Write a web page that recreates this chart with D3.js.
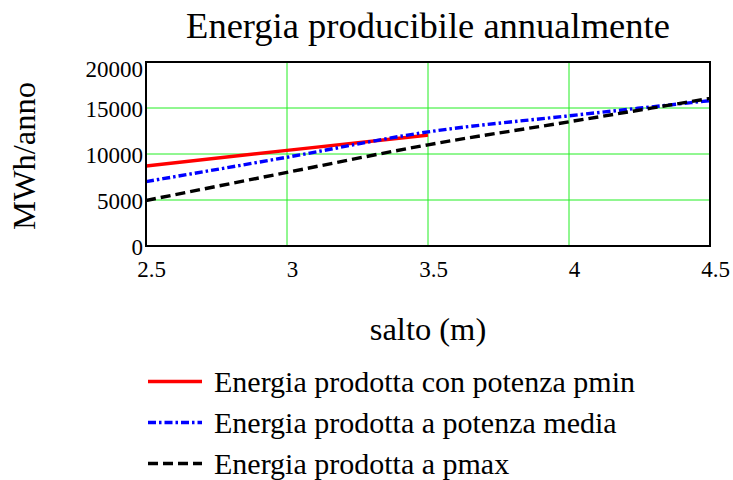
<!DOCTYPE html>
<html><head><meta charset="utf-8">
<script src="https://cdn.jsdelivr.net/npm/d3@7"></script>
<style>body{margin:0;background:#fff}svg{display:block}text{font-family:"Liberation Serif","Times New Roman",serif !important;fill:#000}</style>
</head><body><svg id="c" width="733" height="480"></svg>
<script>
const xTicks = [2.5, 3, 3.5, 4, 4.5];
const yTicks = [0, 5000, 10000, 15000, 20000];
const xPmin = [2.5, 3, 3.5];
const energyPmin = [8700, 10400, 12050];
const xMedia = [2.5, 3, 3.5, 4, 4.5];
const energyMedia = [7000, 9650, 12400, 14150, 15800];
const xPmax = [2.5, 3, 3.5, 4, 4.5];
const energyPmax = [4950, 8000, 11000, 13500, 16050];
const seriesNames = ["Energia prodotta con potenza pmin", "Energia prodotta a potenza media", "Energia prodotta a pmax"];

const FONT = '"Liberation Serif","Times New Roman",serif';
const svg = d3.select("#c");
const L = 146, R = 710, T = 62, B = 246;
const x = d3.scaleLinear().domain([2.5, 4.5]).range([L, R]);
const y = d3.scaleLinear().domain([0, 20000]).range([B, T]);

// grid
svg.append("g").selectAll("line").data(xTicks.slice(1, -1)).join("line")
  .attr("x1", d => x(d)).attr("x2", d => x(d)).attr("y1", T).attr("y2", B)
  .attr("stroke", "#22ee22").attr("stroke-width", 1);
svg.append("g").selectAll("line").data(yTicks.slice(1, -1)).join("line")
  .attr("x1", L).attr("x2", R).attr("y1", d => y(d)).attr("y2", d => y(d))
  .attr("stroke", "#22ee22").attr("stroke-width", 1);

// axes labels via d3 axes
const xAxis = svg.append("g").attr("transform", `translate(0,${B})`)
  .call(d3.axisBottom(x).tickValues(xTicks).tickSize(0).tickPadding(0).tickFormat(d3.format("")));
xAxis.attr("font-family", FONT).attr("font-size", 23);
xAxis.select(".domain").remove();
xAxis.selectAll("text").attr("font-family", FONT).attr("font-size", 23).attr("dy", null).attr("x", 5).attr("y", 31);

const yAxis = svg.append("g").attr("transform", `translate(${L},0)`)
  .call(d3.axisLeft(y).tickValues(yTicks).tickSize(0).tickPadding(3).tickFormat(d3.format("d")));
yAxis.attr("font-family", FONT).attr("font-size", 23);
yAxis.select(".domain").remove();
yAxis.selectAll("text").attr("font-family", FONT).attr("font-size", 23).attr("dy", null)
  .attr("y", d => Math.max(y(d), T + 6) - y(d) + 8);

// lines
const mk = (xs, vs) => xs.map((d, i) => [d, vs[i]]);
const line = d3.line().x(d => x(d[0])).y(d => y(d[1])).curve(d3.curveMonotoneX);
const styles = [
  {data: mk(xPmin, energyPmin), color: "#ff0000", dash: null},
  {data: mk(xMedia, energyMedia), color: "#0000ff", dash: "8,3,2.5,3"},
  {data: mk(xPmax, energyPmax), color: "#000000", dash: "10,5"}
];
svg.append("clipPath").attr("id", "clipP").append("rect").attr("x", L).attr("y", T - 5).attr("width", R - L + 4).attr("height", B - T + 5);
styles.forEach(s => {
  svg.append("path").attr("d", line(s.data)).attr("fill", "none")
    .attr("stroke", s.color).attr("stroke-width", 3.4)
    .attr("stroke-dasharray", s.dash).attr("clip-path", "url(#clipP)");
});

// frame
svg.append("rect").attr("x", L).attr("y", T).attr("width", R - L).attr("height", B - T)
  .attr("fill", "none").attr("stroke", "#000").attr("stroke-width", 2);

// titles
svg.append("text").attr("x", 428).attr("y", 37.5).attr("text-anchor", "middle").attr("font-size", 36.5).text("Energia producibile annualmente");
svg.append("text").attr("x", 428).attr("y", 340).attr("text-anchor", "middle").attr("font-size", 32.5).text("salto (m)");
svg.append("text").attr("transform", "translate(35,156) rotate(-90)").attr("text-anchor", "middle").attr("font-size", 32.5).text("MWh/anno");

// legend
const lg = svg.append("g").selectAll("g").data(styles).join("g")
  .attr("transform", (d, i) => `translate(0,${381.5 + i * 41})`);
lg.append("line").attr("x1", 148).attr("x2", 202).attr("y1", 0).attr("y2", 0)
  .attr("stroke", d => d.color).attr("stroke-width", 3.4).attr("stroke-dasharray", d => d.dash);
lg.append("text").attr("x", 214).attr("y", 10).attr("font-size", 30).text((d, i) => seriesNames[i]);
</script></body></html>
